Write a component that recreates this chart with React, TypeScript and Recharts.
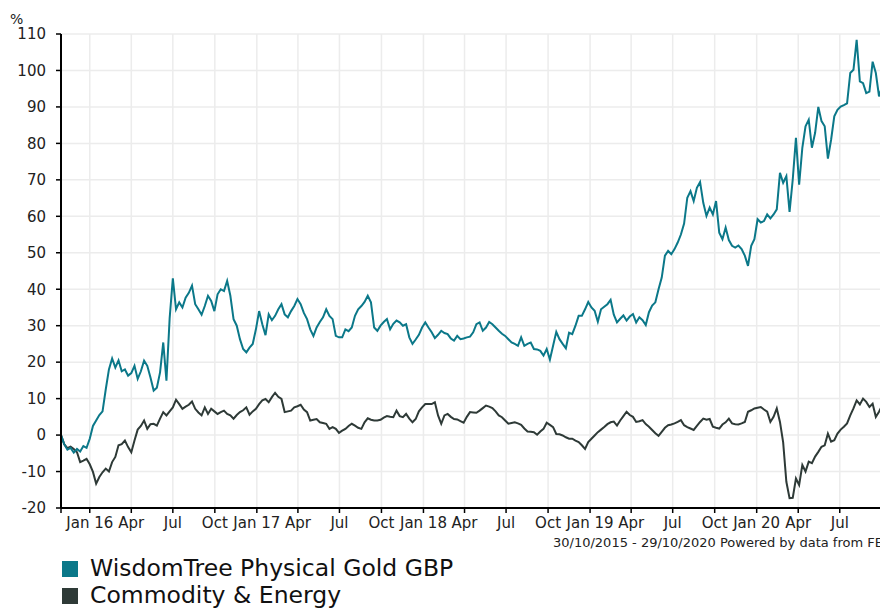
import React from 'react';
import { LineChart, Line, XAxis, YAxis, CartesianGrid } from 'recharts';

const START = Date.UTC(2015, 9, 30);

// weekly % growth, 30/10/2015 -> 29/10/2020
const gold = [
  0, -2.5, -4, -3.5, -4.8, -3.8, -4.5, -3, -3.5, -1,
  2.5, 4, 5.5, 6.5, 12.5, 18, 21, 18.5, 20.5, 17.5,
  18, 16.3, 17, 19, 15.4, 17.5, 20.4, 19, 15.8, 12.2,
  13, 17.2, 25.4, 14.9, 32, 43, 34.5, 36.4, 35, 37.7,
  39, 41, 35.9, 34.5, 33, 35.4, 38.2, 36.8, 34, 38.6,
  40, 39.5, 42.3, 38.2, 31.8, 30, 26.3, 23.6, 22.7, 24,
  25, 29, 34, 30.4, 27.4, 33.1, 31.5, 32.7, 34.5, 35.9,
  33.1, 32.3, 34, 35.4, 37.3, 35.9, 33.5, 31.8, 29, 27.2,
  29.5, 31, 32.3, 34.5, 32.7, 31.8, 27.2, 26.8, 26.8, 29,
  28.5, 29.5, 32.7, 34.5, 35.4, 36.5, 38.2, 36.4, 29.5, 28.6,
  30, 31, 31.8, 29, 30.5, 31.4, 30.9, 30, 30.4, 26.8,
  25, 26.2, 27.5, 29.5, 30.9, 29.5, 28.2, 26.6, 27.5, 28.6,
  28, 27.7, 26.5, 25.9, 27.2, 26.3, 26.5, 26.8, 27, 28.2,
  30.4, 30.9, 28.6, 29.5, 31, 30.4, 29.5, 28.6, 27.8, 27.2,
  26.3, 25.4, 25, 24.5, 26.8, 24.5, 25, 25.4, 23.6, 23.5,
  23.1, 21.8, 23.6, 20.7, 24.5, 28.3, 26.3, 25, 23.8, 28.1,
  27.7, 30, 32.7, 32.7, 34.5, 36.5, 35, 34.1, 31.1, 34.5,
  35.2, 35.9, 37.1, 33, 30.9, 31.9, 32.8, 31.4, 32.5, 33.2,
  30.9, 32.3, 31.5, 30.2, 33.7, 35.5, 36.4, 40, 43.2, 49.2,
  50.5, 49.6, 51, 52.8, 55, 58, 65.1, 66.9, 64.2, 67.8,
  69.4, 63.7, 60.1, 62.4, 60.5, 64.2, 55.5, 53.7, 56.9, 53.5,
  51.9, 51.4, 52, 51, 49.2, 46.4, 51.9, 53.7, 59.2, 58.3,
  58.7, 60.5, 59.4, 60.5, 61.9, 71.9, 69.2, 71, 61.2, 70.1,
  81.5, 68.7, 78.8, 84.7, 86.5, 78.8, 82.9, 90, 86.1, 84.7,
  75.8, 81, 87.4, 89.2, 90.1, 90.5, 91, 99.3, 100.2, 108.4,
  97, 96.5, 93.8, 94.2, 102.4, 99.3, 92.9, 95.6, 93.8, 94.5,
  94, 94.5,
];

const commodity = [
  0, -2.5, -3.6, -3.2, -3.8, -4.7, -7.4, -7, -6.5, -8,
  -10.1, -13.3, -11.5, -10.2, -9.2, -10, -7.4, -6, -2.8, -2.5,
  -1.5, -3.3, -4.7, -1.5, 1.5, 2.5, 4, 1.7, 3, 3.1,
  2.6, 4.5, 6.3, 5.4, 6.5, 7.6, 9.7, 8.5, 7.2, 7.8,
  8.3, 9.2, 7.2, 6.2, 5.4, 7.6, 5.8, 7.2, 6.5, 5.8,
  6.3, 6.7, 5.8, 5.4, 4.5, 5.5, 6.3, 6.8, 7.6, 5.6,
  6.5, 7.2, 8.5, 9.5, 9.9, 9, 10.4, 11.6, 10.5, 9.9,
  6.3, 6.5, 6.7, 7.6, 7.9, 8.3, 7, 6.3, 4, 4.2,
  4.4, 3.5, 3.3, 3.1, 1.7, 2.2, 1.7, 0.6, 1.2, 1.7,
  2.5, 3.1, 2.6, 2, 1.7, 3.5, 4.6, 4.2, 4, 4,
  4.2, 4.8, 5.2, 5, 4.9, 6.7, 5.2, 4.9, 5.8, 4.5,
  3.5, 4.4, 6.5, 7.6, 8.5, 8.5, 8.5, 9, 5.4, 3.1,
  5.4, 5.8, 5, 4.4, 4.3, 3.8, 3.4, 5, 6.3, 6.2,
  6.1, 6.7, 7.4, 8.1, 7.8, 7.4, 6.5, 5.4, 4.9, 4,
  3.1, 3.3, 3.5, 3.2, 2.8, 1.8, 1, 0.9, 0.8, 0.1,
  1, 1.7, 3.4, 2.8, 2.2, 0.3, 0.2, -0.1, -0.6, -1,
  -1, -1.5, -1.9, -2.8, -3.8, -1.9, -1, -0.1, 0.8, 1.5,
  2.2, 3, 3.5, 3.7, 2.6, 4, 5.2, 6.4, 5.5, 5,
  3.6, 3.8, 4.1, 3, 2.3, 1.4, 0.5, -0.2, 0.9, 2,
  2.7, 2.9, 3.2, 3.6, 4.1, 2.7, 2.2, 1.8, 1.4, 2.5,
  3.6, 4.5, 4.2, 4.4, 2.3, 2, 1.8, 2.9, 3.5, 4.5,
  3.2, 3, 2.9, 3.2, 3.6, 6.4, 6.8, 7.3, 7.5, 7.7,
  7, 6.4, 3.6, 5, 7.3, 3.6, -2, -12.8, -17.3, -17.2,
  -11.9, -13.7, -8.2, -10, -7.3, -7.7, -5.9, -4.6, -3.2, -2.8,
  0.4, -1.8, -1.4, 0.4, 1.5, 2.3, 3.2, 5.4, 7.3, 9.5,
  8.4, 10, 9.1, 7.7, 8.6, 5, 6.4, 8.2, 8.6, 8.5,
  8.2, 8.6,
];

const tickDates = [
  '2016-01-01', '2016-04-01', '2016-07-01', '2016-10-01',
  '2017-01-01', '2017-04-01', '2017-07-01', '2017-10-01',
  '2018-01-01', '2018-04-01', '2018-07-01', '2018-10-01',
  '2019-01-01', '2019-04-01', '2019-07-01', '2019-10-01',
  '2020-01-01', '2020-04-01', '2020-07-01',
];
const tickLabels = [
  'Jan 16', 'Apr', 'Jul', 'Oct',
  'Jan 17', 'Apr', 'Jul', 'Oct',
  'Jan 18', 'Apr', 'Jul', 'Oct',
  'Jan 19', 'Apr', 'Jul', 'Oct',
  'Jan 20', 'Apr', 'Jul',
];
const yTicks = [-20, -10, 0, 10, 20, 30, 40, 50, 60, 70, 80, 90, 100, 110];

const GOLD = '#0b7889';
const COMM = '#2e3a37';
const FONT = '"DejaVu Sans", Verdana, sans-serif';

const dayOf = (s: string) => Math.round((Date.parse(s + 'T00:00:00Z') - START) / 86400000);
const xTicks = tickDates.map(dayOf);
const labelFor: Record<number, string> = {};
xTicks.forEach((d, i) => { labelFor[d] = tickLabels[i]; });

const data = gold.map((v, i) => ({ day: i * 7, gold: v, commodity: commodity[i] }));

export default function App() {
  return (
    <div style={{ position: 'relative', width: 880, height: 602, overflow: 'hidden', fontFamily: FONT }}>
      <div style={{ position: 'absolute', left: 2, top: 3, fontSize: 14, color: '#222' }}>%</div>
      <LineChart
        width={892}
        height={530}
        data={data}
        margin={{ top: 26, right: 5, left: 0, bottom: 0 }}
      >
        <CartesianGrid stroke="#ececec" strokeWidth={1.5} />
        <XAxis
          dataKey="day"
          type="number"
          domain={[0, 1827]}
          ticks={[0, ...xTicks]}
          tickFormatter={(d) => labelFor[d] ?? ''}
          interval={0}
          height={30}
          tickSize={5}
          tickMargin={4}
          axisLine={{ stroke: '#000', strokeWidth: 2 }}
          tickLine={{ stroke: '#000', strokeWidth: 1.5 }}
          tick={{ fill: '#222', fontSize: 15, fontFamily: FONT }}
        />
        <YAxis
          type="number"
          domain={[-20, 110]}
          ticks={yTicks}
          interval={0}
          width={53}
          tickSize={5}
          tickMargin={10}
          axisLine={{ stroke: '#000', strokeWidth: 2 }}
          tickLine={{ stroke: '#000', strokeWidth: 1.5 }}
          tick={{ fill: '#222', fontSize: 15, fontFamily: FONT }}
        />
        <Line type="linear" dataKey="commodity" stroke={COMM} strokeWidth={2} dot={false} isAnimationActive={false} />
        <Line type="linear" dataKey="gold" stroke={GOLD} strokeWidth={2} dot={false} isAnimationActive={false} />
      </LineChart>
      <div style={{ position: 'absolute', left: 545, top: 527, fontSize: 13, color: '#222', whiteSpace: 'nowrap' }}>
        30/10/2015 - 29/10/2020 Powered by data from FE
      </div>
      <div style={{ position: 'absolute', left: 54, top: 547 }}>
        {[
          { name: 'WisdomTree Physical Gold GBP', color: GOLD },
          { name: 'Commodity & Energy', color: COMM },
        ].map((item) => (
          <div key={item.name} style={{ display: 'flex', alignItems: 'center', height: 27 }}>
            <div style={{ width: 16, height: 16, background: item.color, marginRight: 12 }} />
            <span style={{ fontSize: 23.5, lineHeight: '27px', color: '#111', whiteSpace: 'nowrap' }}>{item.name}</span>
          </div>
        ))}
      </div>
    </div>
  );
}
